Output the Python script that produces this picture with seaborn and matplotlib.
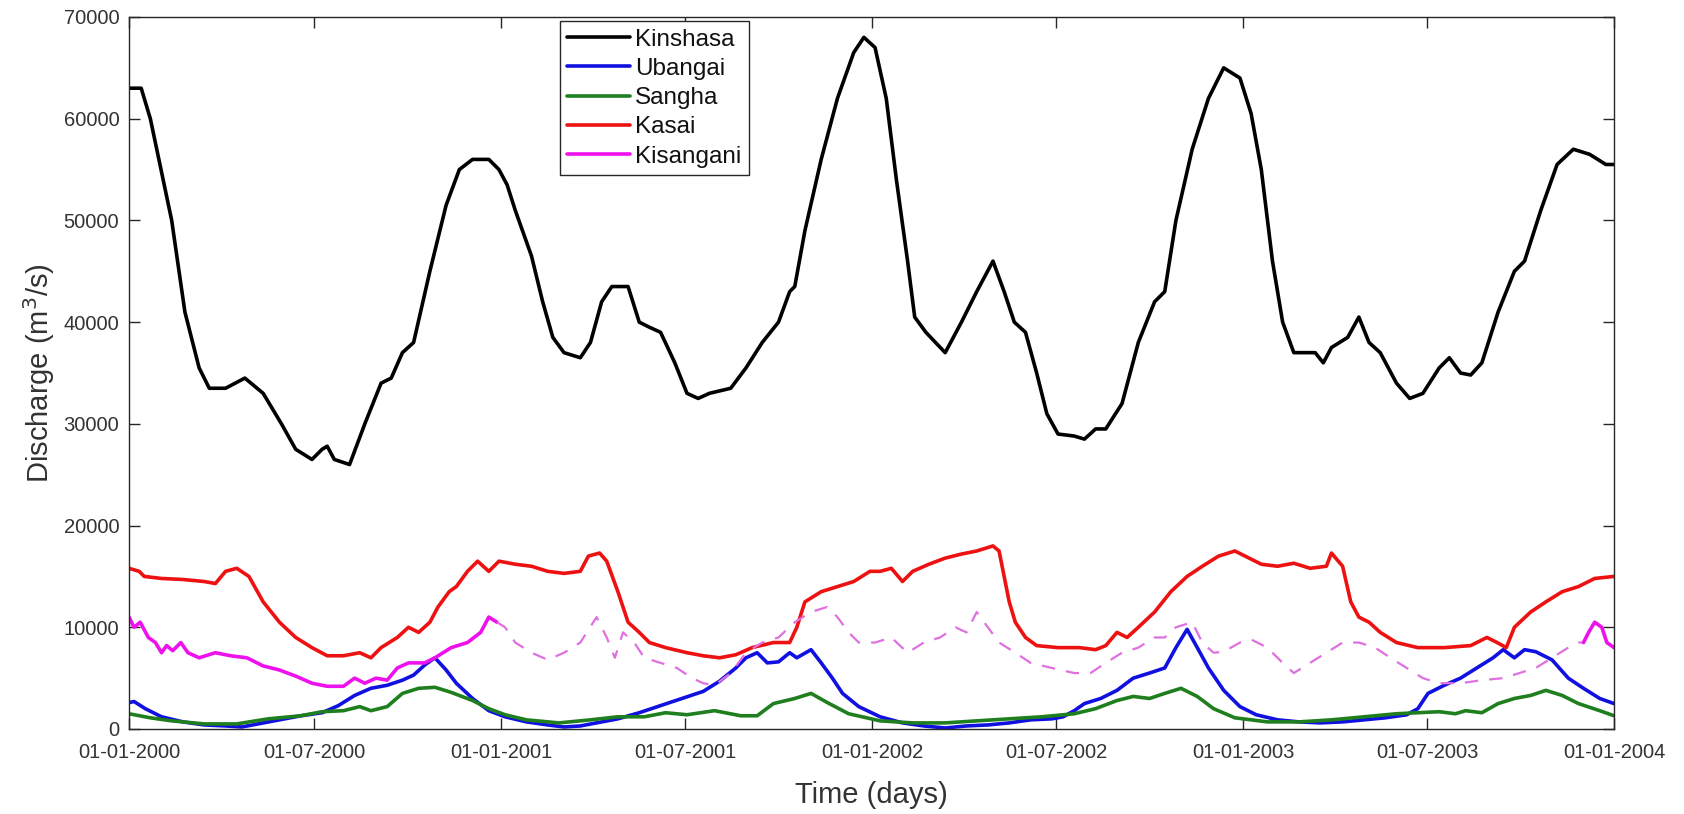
import numpy as np
import pandas as pd
import matplotlib
matplotlib.use("Agg")
import matplotlib.pyplot as plt
import matplotlib.dates as mdates
import seaborn as sns

# Day numbers counted from 01-01-2000, discharge values (m3/s)
kin_day = [0, 12, 21, 42, 55, 69, 79, 95, 114, 132, 150, 164, 180, 190, 195, 202, 217,
           232, 248, 258, 269, 280, 296, 312, 325, 338, 354, 364, 372, 380, 396, 407,
           417, 428, 444, 454, 465, 475, 491, 502, 512, 523, 537, 549, 560, 571, 592,
           607, 623, 639, 650, 655, 665, 681, 697, 713, 723, 734, 745, 755, 766, 773,
           784, 803, 819, 834, 850, 861, 871, 882, 893, 903, 914, 930, 940, 951, 961,
           977, 993, 1009, 1019, 1030, 1046, 1062, 1077, 1093, 1104, 1114, 1125, 1135,
           1146, 1167, 1175, 1183, 1199, 1210, 1220, 1231, 1247, 1260, 1273, 1289, 1299,
           1310, 1320, 1331, 1347, 1363, 1373, 1389, 1405, 1421, 1437, 1453, 1461]
kin_val = [63000, 63000, 60000, 50000, 41000, 35500, 33500, 33500, 34500, 33000, 30000,
           27500, 26500, 27500, 27800, 26500, 26000, 30000, 34000, 34500, 37000, 38000,
           45000, 51500, 55000, 56000, 56000, 55000, 53500, 51000, 46500, 42000, 38500,
           37000, 36500, 38000, 42000, 43500, 43500, 40000, 39500, 39000, 36000, 33000,
           32500, 33000, 33500, 35500, 38000, 40000, 43000, 43500, 49000, 56000, 62000,
           66500, 68000, 67000, 62000, 54000, 46000, 40500, 39000, 37000, 40000, 43000,
           46000, 43000, 40000, 39000, 35000, 31000, 29000, 28800, 28500, 29500, 29500,
           32000, 38000, 42000, 43000, 50000, 57000, 62000, 65000, 64000, 60500, 55000,
           46000, 40000, 37000, 37000, 36000, 37500, 38500, 40500, 38000, 37000, 34000,
           32500, 33000, 35500, 36500, 35000, 34800, 36000, 41000, 45000, 46000, 51000,
           55500, 57000, 56500, 55500, 55500]

uba_day = [0, 5, 16, 32, 53, 74, 95, 111, 127, 148, 169, 190, 206, 222, 238, 254, 269,
           280, 291, 301, 312, 322, 338, 354, 370, 391, 412, 428, 444, 460, 481, 502,
           523, 544, 565, 581, 597, 607, 618, 628, 639, 650, 657, 671, 681, 692, 702,
           718, 739, 761, 782, 803, 824, 845, 866, 887, 908, 919, 930, 940, 956, 972,
           988, 1004, 1019, 1030, 1041, 1051, 1062, 1077, 1093, 1109, 1130, 1151, 1172,
           1194, 1215, 1236, 1257, 1268, 1278, 1294, 1310, 1326, 1342, 1352, 1363, 1373,
           1384, 1400, 1416, 1431, 1447, 1461]
uba_val = [2600, 2700, 2000, 1200, 700, 400, 300, 200, 500, 900, 1300, 1600, 2300, 3300,
           4000, 4300, 4800, 5300, 6300, 7000, 5800, 4500, 3000, 1800, 1200, 700, 400,
           200, 300, 600, 1000, 1600, 2300, 3000, 3700, 4700, 6000, 7000, 7500, 6500,
           6600, 7500, 7000, 7800, 6500, 5000, 3500, 2200, 1200, 600, 300, 100, 300, 400,
           600, 900, 1000, 1200, 1800, 2500, 3000, 3800, 5000, 5500, 6000, 8000, 9800,
           8000, 6000, 3800, 2200, 1400, 900, 700, 600, 700, 900, 1100, 1400, 2000, 3500,
           4300, 5000, 6000, 7000, 7800, 7000, 7800, 7600, 6800, 5000, 4000, 3000, 2500]

san_day = [0, 21, 42, 74, 106, 137, 169, 190, 211, 227, 238, 254, 269, 285, 301, 317,
           338, 354, 370, 391, 423, 454, 481, 507, 528, 549, 576, 602, 618, 634, 655,
           671, 687, 708, 739, 771, 803, 834, 866, 898, 930, 951, 972, 988, 1004, 1019,
           1035, 1051, 1067, 1088, 1120, 1151, 1183, 1215, 1247, 1268, 1289, 1305, 1315,
           1331, 1347, 1363, 1379, 1394, 1410, 1426, 1447, 1461]
san_val = [1500, 1100, 800, 500, 500, 1000, 1300, 1700, 1800, 2200, 1800, 2200, 3500,
           4000, 4100, 3600, 2800, 2000, 1400, 900, 600, 900, 1200, 1200, 1600, 1400,
           1800, 1300, 1300, 2500, 3000, 3500, 2600, 1500, 800, 600, 600, 800, 1000,
           1200, 1500, 2000, 2800, 3200, 3000, 3500, 4000, 3200, 2000, 1100, 700, 700,
           900, 1200, 1500, 1600, 1700, 1500, 1800, 1600, 2500, 3000, 3300, 3800, 3300,
           2500, 1800, 1300]

kas_day = [0, 10, 15, 32, 53, 74, 85, 95, 106, 118, 132, 148, 164, 180, 195, 211, 227,
           238, 248, 264, 275, 285, 296, 304, 315, 322, 333, 343, 354, 364, 380, 396,
           412, 428, 444, 452, 463, 470, 481, 491, 502, 512, 528, 549, 565, 581, 597,
           613, 634, 650, 657, 665, 681, 697, 713, 729, 739, 750, 761, 771, 787, 803,
           819, 834, 850, 856, 861, 866, 872, 882, 893, 914, 935, 951, 961, 972, 982,
           993, 1009, 1025, 1041, 1056, 1072, 1088, 1098, 1114, 1130, 1146, 1162, 1178,
           1183, 1194, 1202, 1210, 1220, 1231, 1247, 1268, 1294, 1320, 1336, 1346, 1355,
           1363, 1379, 1394, 1410, 1426, 1442, 1461]
kas_val = [15800, 15500, 15000, 14800, 14700, 14500, 14300, 15500, 15800, 15000, 12500,
           10500, 9000, 8000, 7200, 7200, 7500, 7000, 8000, 9000, 10000, 9500, 10500,
           12000, 13500, 14000, 15500, 16500, 15500, 16500, 16200, 16000, 15500, 15300,
           15500, 17000, 17300, 16500, 13500, 10500, 9500, 8500, 8000, 7500, 7200, 7000,
           7300, 8000, 8500, 8500, 10000, 12500, 13500, 14000, 14500, 15500, 15500,
           15800, 14500, 15500, 16200, 16800, 17200, 17500, 18000, 17500, 15000, 12500,
           10500, 9000, 8200, 8000, 8000, 7800, 8200, 9500, 9000, 10000, 11500, 13500,
           15000, 16000, 17000, 17500, 17000, 16200, 16000, 16300, 15800, 16000, 17300,
           16000, 12500, 11000, 10500, 9500, 8500, 8000, 8000, 8200, 9000, 8500, 8000,
           10000, 11500, 12500, 13500, 14000, 14800, 15000]

# Kisangani: observed part (solid) and gap-filled part (dashed)
kis_day = [0, 5, 11, 19, 26, 32, 37, 43, 51, 58, 69, 85, 100, 116, 132, 148, 164, 180,
           195, 211, 222, 232, 243, 254, 264, 275, 291, 301, 317, 333, 346, 354, 362]
kis_val = [11000, 10000, 10500, 9000, 8500, 7500, 8200, 7700, 8500, 7500, 7000, 7500,
           7200, 7000, 6200, 5800, 5200, 4500, 4200, 4200, 5000, 4500, 5000, 4800, 6000,
           6500, 6500, 7000, 8000, 8500, 9500, 11000, 10500]
kis_fill_day = [362, 370, 380, 396, 412, 428, 444, 460, 470, 478, 486, 497, 507, 523,
                539, 554, 565, 576, 592, 607, 623, 639, 655, 671, 687, 697, 708, 718,
                734, 750, 766, 782, 798, 813, 824, 834, 845, 856, 872, 887, 908, 930,
                946, 961, 977, 993, 1009, 1019, 1030, 1046, 1056, 1067, 1077, 1093, 1104,
                1120, 1135, 1146, 1162, 1178, 1194, 1210, 1226, 1241, 1257, 1273, 1289,
                1310, 1331, 1352, 1368, 1384, 1400, 1416, 1426, 1431]
kis_fill_val = [10500, 10000, 8500, 7500, 6800, 7500, 8500, 11000, 9000, 7000, 9500,
                8500, 7000, 6500, 6000, 5000, 4500, 4300, 5500, 7500, 8500, 9000, 10500,
                11500, 12000, 11000, 9500, 8500, 8500, 9000, 7500, 8500, 9000, 10000,
                9500, 11500, 10000, 8500, 7500, 6500, 6000, 5500, 5500, 6500, 7500, 8000,
                9000, 9000, 10000, 10500, 8500, 7500, 7600, 8500, 8800, 8000, 6500, 5500,
                6500, 7500, 8500, 8500, 8000, 7000, 6000, 5000, 4500, 4500, 4800, 5000,
                5500, 6000, 7000, 8000, 8500, 8500]
kis_end_day = [1431, 1436, 1442, 1449, 1454, 1461]
kis_end_val = [8500, 9500, 10500, 10000, 8500, 8000]

start = pd.Timestamp("2000-01-01")
end = pd.Timestamp("2004-01-01")


def to_dates(days):
    return start + pd.to_timedelta(days, unit="D")


sns.set_style("ticks")
plt.rcParams["font.family"] = ["Liberation Sans", "DejaVu Sans"]

fig = plt.figure(figsize=(16.84, 8.14), dpi=100)
ax = fig.add_axes([129 / 1684, 85 / 814, 1485 / 1684, 712 / 814])

lw = 2.6
sns.lineplot(x=to_dates(kin_day), y=kin_val, color="black", linewidth=lw,
             label="Kinshasa", ax=ax, estimator=None, sort=False)
sns.lineplot(x=to_dates(uba_day), y=uba_val, color="#1010e0", linewidth=lw,
             label="Ubangai", ax=ax, estimator=None, sort=False)
sns.lineplot(x=to_dates(san_day), y=san_val, color="#1f7f1f", linewidth=lw,
             label="Sangha", ax=ax, estimator=None, sort=False)
sns.lineplot(x=to_dates(kas_day), y=kas_val, color="#ee1111", linewidth=lw,
             label="Kasai", ax=ax, estimator=None, sort=False)
sns.lineplot(x=to_dates(kis_day), y=kis_val, color="#ee11ee", linewidth=lw,
             label="Kisangani", ax=ax, estimator=None, sort=False)
sns.lineplot(x=to_dates(kis_fill_day), y=kis_fill_val, color="#e070e0", linewidth=1.6,
             linestyle=(0, (6, 5)), ax=ax, estimator=None, sort=False, legend=False)
sns.lineplot(x=to_dates(kis_end_day), y=kis_end_val, color="#ee11ee", linewidth=lw,
             ax=ax, estimator=None, sort=False, legend=False)

ax.set_xlim(start, end)
ax.set_ylim(0, 70000)
ax.set_yticks(np.arange(0, 70001, 10000))
ax.set_xticks(pd.date_range("2000-01-01", "2004-01-01", freq="6MS"))
ax.xaxis.set_major_formatter(mdates.DateFormatter("%d-%m-%Y"))

txt = "#333333"
for s in ax.spines.values():
    s.set_color("#262626")
    s.set_linewidth(1.0)
ax.tick_params(direction="in", length=8, width=1, color="#262626",
               top=True, right=True, labelsize=14.5, labelcolor=txt)
ax.tick_params(axis="x", pad=10)
ax.tick_params(axis="y", pad=7)

ax.set_xlabel("Time (days)", fontsize=21, color=txt, labelpad=14)
ax.set_ylabel("Discharge (m$^3$/s)", fontsize=21, color=txt, labelpad=5)

leg = ax.legend(loc="upper left", bbox_to_anchor=(0.290, 0.994), borderaxespad=0,
                fontsize=17.5, frameon=True, fancybox=False, framealpha=1,
                edgecolor="#262626", borderpad=0.3, labelspacing=0.3,
                handlelength=2.6, handletextpad=0.2)
leg.get_frame().set_linewidth(1.0)
for t in leg.get_texts():
    t.set_color("#111111")

plt.savefig("out.png", dpi=100)
